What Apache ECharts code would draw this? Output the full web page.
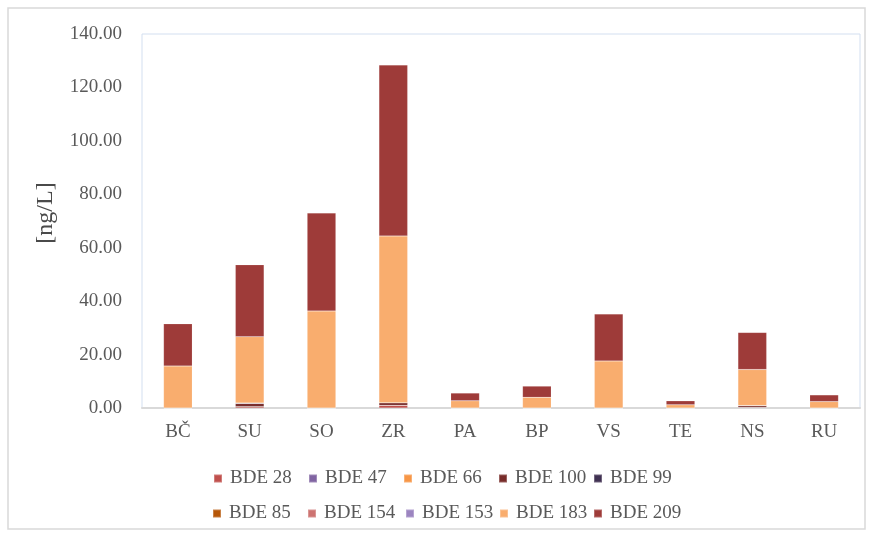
<!DOCTYPE html>
<html>
<head>
<meta charset="utf-8">
<style>
  html, body { margin: 0; padding: 0; background: #ffffff; }
  #chart { width: 872px; height: 535px; }
</style>
<script src="https://cdn.jsdelivr.net/npm/echarts@6/dist/echarts.min.js"></script>
</head>
<body>
<div id="chart"></div>
<script>
// Sampling sites
const categories = ['BČ', 'SU', 'SO', 'ZR', 'PA', 'BP', 'VS', 'TE', 'NS', 'RU'];

// PBDE congener concentrations per site [ng/L]
const bde28  = [0, 0.5, 0, 1.0, 0, 0, 0, 0, 0.2, 0];
const bde47  = [0, 0, 0, 0, 0, 0, 0, 0, 0, 0];
const bde66  = [0, 0, 0, 0, 0, 0, 0, 0, 0, 0];
const bde100 = [0, 1.2, 0, 1.0, 0, 0, 0, 0, 0.7, 0];
const bde99  = [0, 0.2, 0, 0, 0, 0, 0, 0, 0, 0];
const bde85  = [0, 0, 0, 0, 0, 0, 0, 0, 0, 0];
const bde154 = [0, 0, 0, 0, 0, 0, 0, 0, 0, 0];
const bde153 = [0, 0, 0, 0, 0, 0, 0, 0, 0, 0];
const bde183 = [15.7, 24.8, 36.3, 62.4, 2.7, 4.0, 17.6, 1.2, 13.5, 2.4];
const bde209 = [15.8, 26.9, 36.7, 64.0, 2.9, 4.2, 17.6, 1.5, 13.9, 2.5];

// Y axis ticks
const yTicks = { min: 0, max: 140, step: 20 };

const seriesDefs = [
  { name: 'BDE 28',  data: bde28,  color: '#c0504d' },
  { name: 'BDE 47',  data: bde47,  color: '#8064a2' },
  { name: 'BDE 66',  data: bde66,  color: '#f79646' },
  { name: 'BDE 100', data: bde100, color: '#772c2a' },
  { name: 'BDE 99',  data: bde99,  color: '#403152' },
  { name: 'BDE 85',  data: bde85,  color: '#b65708' },
  { name: 'BDE 154', data: bde154, color: '#cd7371' },
  { name: 'BDE 153', data: bde153, color: '#9c85c0' },
  { name: 'BDE 183', data: bde183, color: '#f9ad6e' },
  { name: 'BDE 209', data: bde209, color: '#9e3b39' }
];

const serif = '"Liberation Serif", "DejaVu Serif", serif';
const textGray = '#595959';

// Legend laid out as a 5 x 2 grid, one legend box per entry
const legendCols = [[213, 308, 403, 498, 593], [212, 307, 405, 499, 593]];
const legendRows = [469, 504];
const legends = seriesDefs.map((s, i) => {
  const row = Math.floor(i / 5);
  const col = i % 5;
  return {
    left: legendCols[row][col],
    top: legendRows[row],
    icon: 'rect',
    itemWidth: 8,
    itemHeight: 8,
    selectedMode: false,
    padding: 0,
    data: [s.name],
    textStyle: { fontFamily: serif, fontSize: 19, color: textGray, padding: [0, 0, 0, 3] }
  };
});

const chart = echarts.init(document.getElementById('chart'), null, { renderer: 'canvas' });

chart.setOption({
  animation: false,
  backgroundColor: '#ffffff',
  color: seriesDefs.map(s => s.color),
  graphic: [{
    type: 'rect',
    shape: { x: 8, y: 8, width: 857, height: 521 },
    style: { fill: 'none', stroke: '#d9d9d9', lineWidth: 1.5 },
    silent: true,
    z: -10
  }],
  grid: {
    left: 142,
    right: 12,
    top: 34,
    bottom: 127,
    show: true,
    borderColor: '#d3dff0',
    borderWidth: 1
  },
  legend: legends,
  xAxis: {
    type: 'category',
    data: categories,
    axisLine: { show: true, lineStyle: { color: '#d9d9d9', width: 2 } },
    axisTick: { show: false },
    axisLabel: { fontFamily: serif, fontSize: 19, color: textGray, margin: 15 }
  },
  yAxis: {
    type: 'value',
    min: yTicks.min,
    max: yTicks.max,
    interval: yTicks.step,
    name: '[ng/L]',
    nameLocation: 'middle',
    nameGap: 84,
    nameRotate: 90,
    nameTextStyle: { fontFamily: serif, fontSize: 24, color: '#4a4a4a', padding: [0, 0, 0, 16] },
    axisLine: { show: false },
    axisTick: { show: false },
    splitLine: { show: false },
    axisLabel: {
      fontFamily: serif,
      fontSize: 19,
      color: textGray,
      margin: 20,
      formatter: v => v.toFixed(2)
    }
  },
  series: seriesDefs.map(s => ({
    name: s.name,
    type: 'bar',
    stack: 'total',
    barWidth: '40%',
    data: s.data,
    itemStyle: { color: s.color, borderColor: 'rgba(255,255,255,0.25)', borderWidth: 0.5 },
    emphasis: { disabled: true }
  }))
});
</script>
</body>
</html>
